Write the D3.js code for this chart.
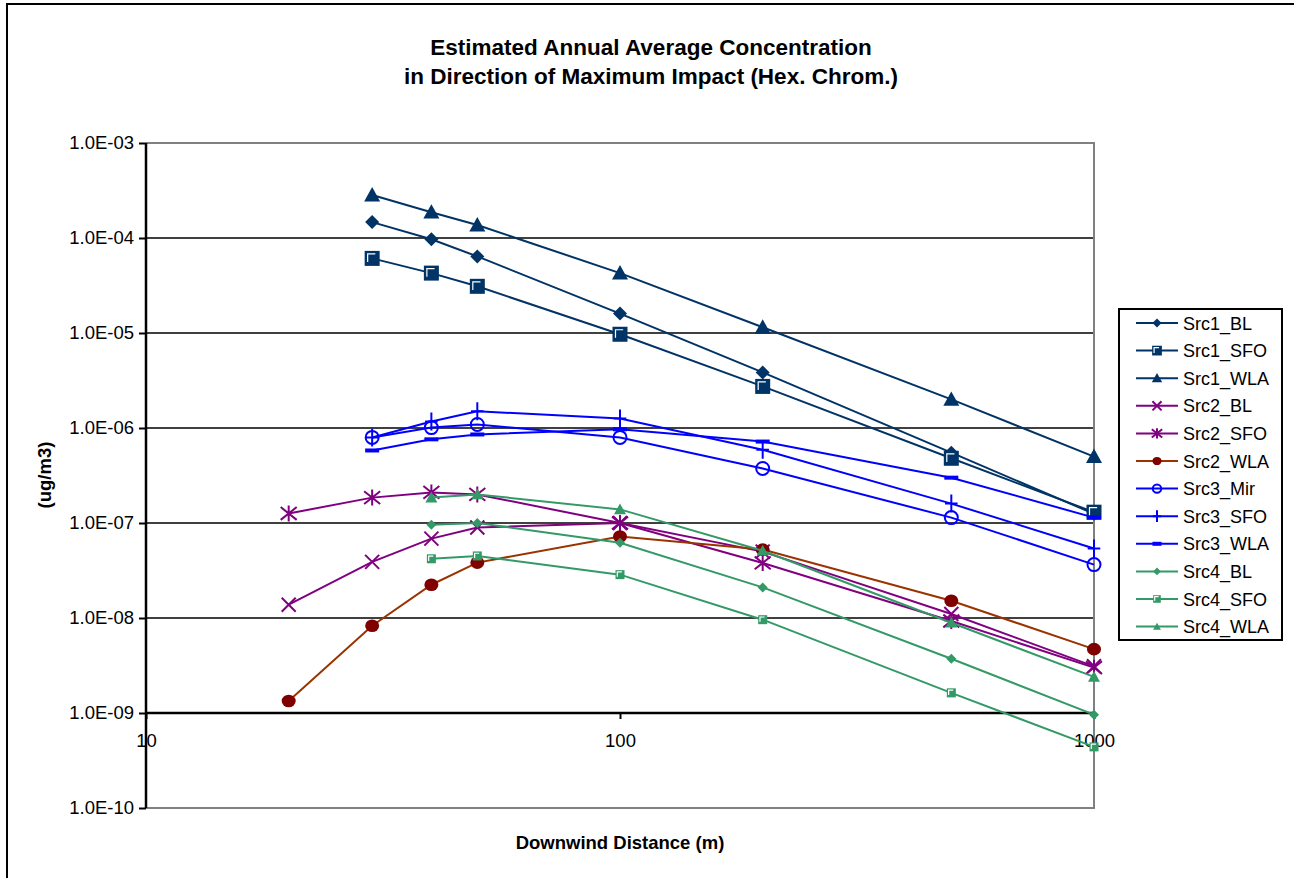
<!DOCTYPE html>
<html>
<head>
<meta charset="utf-8">
<script src="https://cdn.jsdelivr.net/npm/d3@7"></script>
<style>
  body { margin: 0; background: #fff; }
  text { font-family: "Liberation Sans", Arial, sans-serif; fill: #000; }
</style>
</head>
<body>
<svg id="chart" width="1294" height="878"></svg>
<script>
// distances (m) for each source group
var distSrc1 = [30, 40, 50, 100, 200, 500, 1000];
var distSrc2 = [20, 30, 40, 50, 100, 200, 500, 1000];
var distSrc3 = [30, 40, 50, 100, 200, 500, 1000];
var distSrc4 = [40, 50, 100, 200, 500, 1000];

// concentrations (ug/m3)
var src1BL  = [1.47e-4, 9.7e-5, 6.4e-5, 1.6e-5, 3.85e-6, 5.5e-7, 1.25e-7];
var src1SFO = [6.1e-5, 4.27e-5, 3.1e-5, 9.7e-6, 2.74e-6, 4.8e-7, 1.3e-7];
var src1WLA = [2.83e-4, 1.87e-4, 1.37e-4, 4.27e-5, 1.15e-5, 2.0e-6, 5.0e-7];
var src2BL  = [1.38e-8, 3.9e-8, 6.85e-8, 8.95e-8, 1.0e-7, 5.0e-8, 1.1e-8, 3.1e-9];
var src2SFO = [1.26e-7, 1.85e-7, 2.1e-7, 2.0e-7, 1.0e-7, 3.8e-8, 9.3e-9, 3.0e-9];
var src2WLA = [1.34e-9, 8.3e-9, 2.24e-8, 3.83e-8, 7.2e-8, 5.25e-8, 1.52e-8, 4.7e-9];
var src3Mir = [7.96e-7, 1.01e-6, 1.09e-6, 7.96e-7, 3.75e-7, 1.14e-7, 3.65e-8];
var src3SFO = [7.96e-7, 1.17e-6, 1.5e-6, 1.26e-6, 5.9e-7, 1.6e-7, 5.4e-8];
var src3WLA = [5.8e-7, 7.6e-7, 8.55e-7, 9.7e-7, 7.2e-7, 3.0e-7, 1.14e-7];
var src4BL  = [9.6e-8, 1.0e-7, 6.2e-8, 2.1e-8, 3.72e-9, 9.6e-10];
var src4SFO = [4.2e-8, 4.5e-8, 2.86e-8, 9.6e-9, 1.63e-9, 4.4e-10];
var src4WLA = [1.85e-7, 2.0e-7, 1.39e-7, 5.1e-8, 8.9e-9, 2.4e-9];

var yTicks = [1e-3, 1e-4, 1e-5, 1e-6, 1e-7, 1e-8, 1e-9, 1e-10];
var yTickLabels = ["1.0E-03", "1.0E-04", "1.0E-05", "1.0E-06", "1.0E-07", "1.0E-08", "1.0E-09", "1.0E-10"];
var xTicks = [10, 100, 1000];

var navy = "#003366", purple = "#800080", blue = "#0000ff", green = "#339966";

var series = [
  {name: "Src1_BL",  x: distSrc1, y: src1BL,  line: navy,   fill: navy,   marker: "diamond",  size: 7},
  {name: "Src1_SFO", x: distSrc1, y: src1SFO, line: navy,   fill: navy,   marker: "square",   size: 7.5},
  {name: "Src1_WLA", x: distSrc1, y: src1WLA, line: navy,   fill: navy,   marker: "triangle", size: 8},
  {name: "Src2_BL",  x: distSrc2, y: src2BL,  line: purple, fill: purple, marker: "x",        size: 7},
  {name: "Src2_SFO", x: distSrc2, y: src2SFO, line: purple, fill: purple, marker: "star",     size: 8},
  {name: "Src2_WLA", x: distSrc2, y: src2WLA, line: "#993300", fill: "#800000", marker: "dot", size: 7},
  {name: "Src3_Mir", x: distSrc3, y: src3Mir, line: blue,   fill: blue,   marker: "circle",   size: 6.5},
  {name: "Src3_SFO", x: distSrc3, y: src3SFO, line: blue,   fill: blue,   marker: "plus",     size: 9},
  {name: "Src3_WLA", x: distSrc3, y: src3WLA, line: blue,   fill: blue,   marker: "dash",     size: 7},
  {name: "Src4_BL",  x: distSrc4, y: src4BL,  line: green,  fill: green,  marker: "diamond",  size: 5},
  {name: "Src4_SFO", x: distSrc4, y: src4SFO, line: green,  fill: green,  marker: "square",   size: 4.5},
  {name: "Src4_WLA", x: distSrc4, y: src4WLA, line: green,  fill: green,  marker: "triangle", size: 6}
];

var svg = d3.select("#chart");

// outer chart frame
svg.append("rect").attr("x", 7).attr("y", 4).attr("width", 1300).attr("height", 900)
  .attr("fill", "#fff").attr("stroke", "#000").attr("stroke-width", 2);

var pLeft = 146, pRight = 1094, pTop = 143, pBottom = 808;

var x = d3.scaleLog().domain([10, 1000]).range([pLeft, pRight]);
var y = d3.scaleLog().domain([1e-10, 1e-3]).range([pBottom, pTop]);

// gridlines
svg.append("g").selectAll("line").data(yTicks.slice(1, 6))
  .enter().append("line")
  .attr("x1", pLeft).attr("x2", pRight)
  .attr("y1", function(d){ return y(d); }).attr("y2", function(d){ return y(d); })
  .attr("stroke", "#000").attr("stroke-width", 1.3);

// plot border (gray) top/right/bottom
svg.append("path")
  .attr("d", "M" + pLeft + "," + pTop + "H" + pRight + "V" + pBottom + "H" + pLeft)
  .attr("fill", "none").attr("stroke", "#808080").attr("stroke-width", 2);

// y axis
var yAxis = svg.append("g").attr("transform", "translate(" + pLeft + ",0)")
  .call(d3.axisLeft(y).tickValues(yTicks).tickSize(7).tickPadding(5)
    .tickFormat(function(d, i){ return yTickLabels[i]; }));
yAxis.select(".domain").attr("stroke", "#000").attr("stroke-width", 2.5).attr("d", "M0," + pTop + "V" + pBottom);
yAxis.selectAll(".tick line").attr("stroke", "#000").attr("stroke-width", 2);
yAxis.selectAll(".tick text").style("font-size", "18.5px").attr("fill", "#000")
  .style("font-family", "'Liberation Sans', Arial, sans-serif");

// x axis crosses at 1.0E-09
var xAxis = svg.append("g").attr("transform", "translate(0," + y(1e-9) + ")")
  .call(d3.axisBottom(x).tickValues(xTicks).tickSize(6).tickPadding(15)
    .tickFormat(d3.format("d")));
xAxis.select(".domain").attr("stroke", "#000").attr("stroke-width", 2.5)
  .attr("d", "M" + pLeft + ",0H" + pRight);
xAxis.selectAll(".tick line").attr("stroke", "#000").attr("stroke-width", 2);
xAxis.selectAll(".tick text").style("font-size", "18.5px").attr("fill", "#000")
  .style("font-family", "'Liberation Sans', Arial, sans-serif");

function drawMarker(g, type, s, color, fill) {
  if (type == "diamond") {
    g.append("path").attr("d", "M0," + (-s) + "L" + s + ",0L0," + s + "L" + (-s) + ",0Z").attr("fill", fill);
  } else if (type == "square") {
    g.append("rect").attr("x", -s).attr("y", -s).attr("width", 2 * s).attr("height", 2 * s).attr("fill", fill);
    var k = s * 0.6;
    g.append("path").attr("d", "M" + (-k) + "," + (k * 0.8) + "V" + (-k) + "H" + (k * 0.7))
      .attr("fill", "none").attr("stroke", "#fff").attr("stroke-width", 1.2);
  } else if (type == "triangle") {
    g.append("path").attr("d", "M0," + (-s) + "L" + s + "," + (s * 0.8) + "L" + (-s) + "," + (s * 0.8) + "Z").attr("fill", fill);
  } else if (type == "x") {
    g.append("path").attr("d", "M" + (-s) + "," + (-s) + "L" + s + "," + s + "M" + s + "," + (-s) + "L" + (-s) + "," + s)
      .attr("stroke", color).attr("stroke-width", 2);
  } else if (type == "star") {
    g.append("path").attr("d", "M" + (-s) + "," + (-s * 0.8) + "L" + s + "," + (s * 0.8) + "M" + s + "," + (-s * 0.8) + "L" + (-s) + "," + (s * 0.8) + "M0," + (-s) + "V" + s)
      .attr("stroke", color).attr("stroke-width", 2);
  } else if (type == "dot") {
    g.append("ellipse").attr("rx", s).attr("ry", s * 0.9).attr("fill", fill);
  } else if (type == "circle") {
    g.append("circle").attr("r", s).attr("fill", "none").attr("stroke", color).attr("stroke-width", 2);
  } else if (type == "plus") {
    g.append("path").attr("d", "M0," + (-s) + "V" + s + "M" + (-s * 0.7) + ",0H" + (s * 0.7))
      .attr("stroke", color).attr("stroke-width", 2);
  } else if (type == "dash") {
    g.append("rect").attr("x", -s).attr("y", -2).attr("width", 2 * s).attr("height", 4).attr("fill", fill);
  }
}

var line = d3.line().x(function(d){ return x(d[0]); }).y(function(d){ return y(d[1]); });

series.forEach(function(s) {
  var pts = s.x.map(function(d, i){ return [d, s.y[i]]; });
  var g = svg.append("g").attr("class", "series");
  g.append("path").datum(pts).attr("d", line)
    .attr("fill", "none").attr("stroke", s.line).attr("stroke-width", 2);
  g.selectAll(".mk").data(pts).enter().append("g").attr("class", "mk")
    .attr("transform", function(d){ return "translate(" + x(d[0]) + "," + y(d[1]) + ")"; })
    .each(function() { drawMarker(d3.select(this), s.marker, s.size, s.fill, s.fill); });
});

// titles
svg.append("text").attr("x", 651).attr("y", 55).attr("text-anchor", "middle")
  .style("font-size", "22.5px").style("font-weight", "bold").text("Estimated Annual Average Concentration");
svg.append("text").attr("x", 651).attr("y", 84).attr("text-anchor", "middle")
  .style("font-size", "22.5px").style("font-weight", "bold").text("in Direction of Maximum Impact (Hex. Chrom.)");
svg.append("text").attr("x", 620).attr("y", 849).attr("text-anchor", "middle")
  .style("font-size", "18.5px").style("font-weight", "bold").text("Downwind Distance (m)");
svg.append("text").attr("transform", "translate(51,475) rotate(-90)").attr("text-anchor", "middle")
  .style("font-size", "18.5px").style("font-weight", "bold").text("(ug/m3)");

// legend
var legend = svg.append("g").attr("transform", "translate(1119,309)");
legend.append("rect").attr("width", 163).attr("height", 331)
  .attr("fill", "#fff").attr("stroke", "#000").attr("stroke-width", 2);
series.forEach(function(s, i) {
  var ly = 14 + i * 27.6;
  var row = legend.append("g").attr("transform", "translate(0," + ly + ")");
  row.append("line").attr("x1", 17).attr("x2", 59).attr("stroke", s.line).attr("stroke-width", 2);
  var mg = row.append("g").attr("transform", "translate(38,0)");
  drawMarker(mg, s.marker, Math.max(s.size * 0.65, 3.8), s.fill, s.fill);
  row.append("text").attr("x", 64).attr("y", 6.5).style("font-size", "18px").text(s.name);
});
</script>
</body>
</html>
